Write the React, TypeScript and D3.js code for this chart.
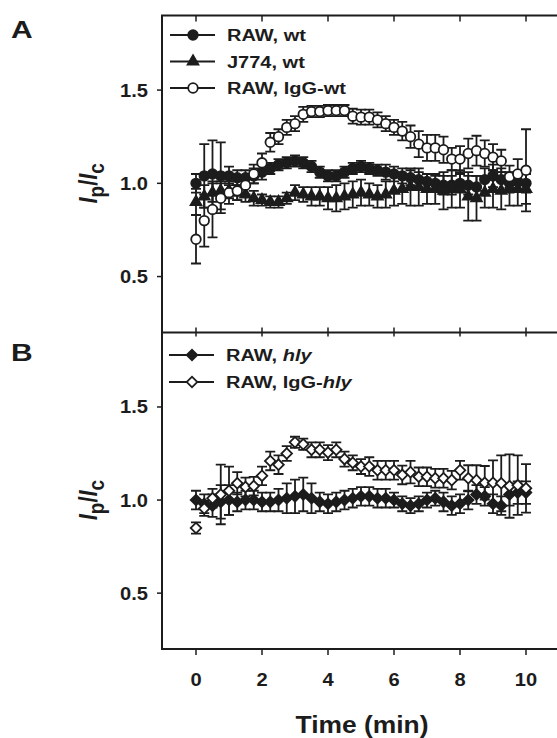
import React, { useEffect, useRef } from 'react';
import * as d3 from 'd3';

// time points (min)
const times = [0, 0.25, 0.5, 0.75, 1, 1.25, 1.5, 1.75, 2, 2.25, 2.5, 2.75, 3, 3.25, 3.5, 3.75, 4, 4.25, 4.5, 4.75,
  5, 5.25, 5.5, 5.75, 6, 6.25, 6.5, 6.75, 7, 7.25, 7.5, 7.75, 8, 8.25, 8.5, 8.75, 9, 9.25, 9.5, 9.75, 10];

const xTicks = [0, 2, 4, 6, 8, 10];
const yTicks = [0.5, 1.0, 1.5];

// panel A
const rawWt = [1.00, 1.04, 1.05, 1.04, 1.04, 1.03, 1.03, 1.04, 1.06, 1.08, 1.10, 1.11, 1.12, 1.11, 1.09, 1.06, 1.04, 1.04, 1.06, 1.08,
  1.09, 1.08, 1.07, 1.06, 1.05, 1.04, 1.03, 1.02, 1.01, 1.00, 0.99, 0.99, 1.00, 0.99, 0.98, 1.02, 1.04, 1.02, 1.00, 1.01, 1.00];
const rawWtErr = [0.05, 0.17, 0.18, 0.18, 0.05, 0.04, 0.04, 0.04, 0.04, 0.03, 0.03, 0.03, 0.03, 0.03, 0.03, 0.03, 0.03, 0.03, 0.03, 0.03,
  0.03, 0.03, 0.03, 0.04, 0.04, 0.04, 0.04, 0.04, 0.04, 0.04, 0.05, 0.05, 0.05, 0.05, 0.06, 0.06, 0.06, 0.06, 0.05, 0.05, 0.05];

const j774Wt = [0.90, 0.93, 0.95, 0.96, 0.96, 0.95, 0.94, 0.92, 0.91, 0.90, 0.90, 0.92, 0.95, 0.94, 0.93, 0.93, 0.92, 0.92, 0.93, 0.94,
  0.95, 0.94, 0.93, 0.94, 0.96, 0.97, 0.98, 0.98, 0.97, 0.97, 0.96, 0.97, 0.97, 0.93, 0.92, 0.95, 0.97, 0.96, 0.97, 0.97, 0.97];
const j774WtErr = [0.07, 0.06, 0.05, 0.05, 0.04, 0.04, 0.04, 0.04, 0.03, 0.03, 0.03, 0.03, 0.04, 0.04, 0.05, 0.05, 0.06, 0.07, 0.07, 0.07,
  0.07, 0.06, 0.06, 0.07, 0.08, 0.08, 0.10, 0.10, 0.08, 0.08, 0.10, 0.10, 0.10, 0.13, 0.12, 0.08, 0.10, 0.10, 0.09, 0.09, 0.08];

const rawIgGWt = [0.70, 0.80, 0.86, 0.92, 0.95, 0.96, 0.99, 1.05, 1.11, 1.22, 1.25, 1.30, 1.32, 1.37, 1.385, 1.385, 1.39, 1.39, 1.39, 1.36,
  1.355, 1.355, 1.34, 1.32, 1.30, 1.28, 1.25, 1.21, 1.19, 1.19, 1.18, 1.13, 1.13, 1.16, 1.175, 1.16, 1.14, 1.12, 1.035, 1.05, 1.07];
const rawIgGWtErr = [0.13, 0.14, 0.15, 0.08, 0.06, 0.05, 0.05, 0.05, 0.05, 0.05, 0.04, 0.04, 0.04, 0.04, 0.03, 0.03, 0.03, 0.03, 0.03, 0.04,
  0.04, 0.04, 0.04, 0.04, 0.04, 0.05, 0.06, 0.07, 0.07, 0.07, 0.07, 0.06, 0.07, 0.08, 0.08, 0.07, 0.07, 0.06, 0.06, 0.08, 0.22];

// panel B
const rawHly = [1.00, 0.98, 0.97, 0.99, 1.00, 0.99, 1.00, 1.00, 0.99, 0.99, 1.00, 1.01, 1.02, 1.03, 1.01, 0.99, 0.98, 0.99, 1.00, 1.01,
  1.02, 1.02, 1.01, 1.01, 1.00, 0.98, 0.97, 0.98, 1.00, 1.01, 0.99, 0.97, 0.98, 1.00, 1.03, 1.02, 0.98, 0.97, 1.03, 1.04, 1.04];
const rawHlyErr = [0.05, 0.05, 0.06, 0.09, 0.08, 0.05, 0.05, 0.05, 0.05, 0.05, 0.06, 0.08, 0.09, 0.09, 0.08, 0.05, 0.05, 0.05, 0.05, 0.05,
  0.05, 0.05, 0.05, 0.05, 0.04, 0.04, 0.04, 0.04, 0.04, 0.04, 0.05, 0.05, 0.05, 0.05, 0.05, 0.05, 0.05, 0.05, 0.06, 0.06, 0.06];

const rawIgGHly = [0.85, 0.955, 1.01, 1.03, 1.05, 1.09, 1.07, 1.075, 1.13, 1.21, 1.19, 1.25, 1.31, 1.30, 1.27, 1.27, 1.255, 1.27, 1.22, 1.20,
  1.18, 1.18, 1.16, 1.16, 1.16, 1.135, 1.15, 1.125, 1.125, 1.117, 1.117, 1.107, 1.16, 1.117, 1.107, 1.093, 1.093, 1.09, 1.075, 1.08, 1.063];
const rawIgGHlyErr = [0.03, 0.04, 0.05, 0.16, 0.13, 0.06, 0.05, 0.05, 0.05, 0.05, 0.05, 0.04, 0.03, 0.03, 0.04, 0.04, 0.04, 0.04, 0.04, 0.04,
  0.04, 0.05, 0.05, 0.05, 0.05, 0.05, 0.06, 0.05, 0.05, 0.05, 0.05, 0.05, 0.05, 0.07, 0.08, 0.09, 0.12, 0.15, 0.17, 0.16, 0.13];

const FONT = '"Liberation Sans", Arial, sans-serif';
const INK = '#1c1c1c';
const SW = 1.8;

const App = () => {
  const svgRef = useRef(null);

  useEffect(() => {
    const svg = d3.select(svgRef.current);
    svg.selectAll('*').remove();

    const width = 557;
    const height = 738;
    const left = 162;
    const topA = 15.5;
    const mid = 332.5;
    const bottom = 649;

    const x = d3.scaleLinear().domain([-1, 11]).range([163, 559]);
    const yA = d3.scaleLinear().domain([0.2, 1.9]).range([mid, topA]);
    const yB = d3.scaleLinear().domain([0.2, 1.9]).range([bottom, mid]);

    svg.attr('width', width).attr('height', height);

    const sym = (type, size) => d3.symbol().type(type).size(size)();

    const markers = {
      circle: { path: sym(d3.symbolCircle, 72), rot: 0 },
      triangle: { path: sym(d3.symbolTriangle, 50), rot: 0 },
      diamond: { path: sym(d3.symbolSquare, 56), rot: 45 },
    };

    // bold text, slightly stretched sideways like the source figure
    const label = (g, tx, ty, size, sx, anchor = 'start') =>
      g.append('text')
        .attr('transform', `translate(${tx},${ty}) scale(${sx},1)`)
        .attr('text-anchor', anchor)
        .style('font-family', FONT)
        .style('font-weight', 'bold')
        .style('font-size', `${size}px`)
        .attr('fill', INK);

    const drawSeries = (g, y, vals, errs, marker, filled) => {
      const s = g.append('g');
      // error bars
      s.selectAll('.err')
        .data(vals)
        .enter()
        .append('path')
        .attr('d', (v, i) => {
          const cx = x(times[i]);
          const y1 = y(v + errs[i]);
          const y0 = y(v - errs[i]);
          return `M${cx},${y0}V${y1}M${cx - 5},${y1}H${cx + 5}M${cx - 5},${y0}H${cx + 5}`;
        })
        .attr('stroke', INK)
        .attr('stroke-width', SW)
        .attr('fill', 'none');
      s.selectAll('.pt')
        .data(vals)
        .enter()
        .append('path')
        .attr('d', markers[marker].path)
        .attr('transform', (v, i) => `translate(${x(times[i])},${y(v)}) rotate(${markers[marker].rot})`)
        .attr('fill', filled ? INK : '#fff')
        .attr('stroke', INK)
        .attr('stroke-width', SW);
    };

    const legend = (g, lx, ly, marker, filled, parts) => {
      g.append('line')
        .attr('x1', lx - 23).attr('x2', lx + 22)
        .attr('y1', ly).attr('y2', ly)
        .attr('stroke', INK).attr('stroke-width', SW);
      g.append('path')
        .attr('d', markers[marker].path)
        .attr('transform', `translate(${lx},${ly}) rotate(${markers[marker].rot})`)
        .attr('fill', filled ? INK : '#fff')
        .attr('stroke', INK)
        .attr('stroke-width', SW);
      const t = label(g, lx + 34, ly + 6, 16, 1.25);
      parts.forEach(([txt, it]) => {
        t.append('tspan').text(txt).style('font-style', it ? 'italic' : 'normal');
      });
    };

    const yAxis = (g, y, cy) => {
      yTicks.forEach((v) => {
        g.append('line')
          .attr('x1', left - 5).attr('x2', left)
          .attr('y1', y(v)).attr('y2', y(v))
          .attr('stroke', INK).attr('stroke-width', 1.5);
        label(g, left - 14, y(v) + 6.5, 17.5, 1.15, 'end').text(d3.format('.1f')(v));
      });
      const lab = g.append('text')
        .attr('transform', `translate(97,${cy}) rotate(-90) scale(1,1.2)`)
        .attr('text-anchor', 'middle')
        .style('font-family', FONT)
        .style('font-weight', 'bold')
        .style('font-size', '22px')
        .attr('fill', INK);
      lab.append('tspan').text('I').style('font-style', 'italic');
      lab.append('tspan').text('p').attr('dy', 6).style('font-size', '19px');
      lab.append('tspan').text('/').attr('dy', -6);
      lab.append('tspan').text('I').style('font-style', 'italic');
      lab.append('tspan').text('c').attr('dy', 6).style('font-size', '19px');
    };

    const g = svg.append('g');

    // data
    drawSeries(g, yA, rawWt, rawWtErr, 'circle', true);
    drawSeries(g, yA, j774Wt, j774WtErr, 'triangle', true);
    drawSeries(g, yA, rawIgGWt, rawIgGWtErr, 'circle', false);
    drawSeries(g, yB, rawHly, rawHlyErr, 'diamond', true);
    drawSeries(g, yB, rawIgGHly, rawIgGHlyErr, 'diamond', false);

    // frame
    g.append('path')
      .attr('d', `M${width},${topA}H${left}V${bottom}H${width}M${left},${mid}H${width}`)
      .attr('fill', 'none')
      .attr('stroke', INK)
      .attr('stroke-width', 2);

    xTicks.forEach((t) => {
      const cx = x(t);
      g.append('line').attr('x1', cx).attr('x2', cx).attr('y1', topA).attr('y2', topA + 6)
        .attr('stroke', INK).attr('stroke-width', 1.5);
      g.append('line').attr('x1', cx).attr('x2', cx).attr('y1', mid - 5).attr('y2', mid + 4)
        .attr('stroke', INK).attr('stroke-width', 1.5);
      g.append('line').attr('x1', cx).attr('x2', cx).attr('y1', bottom).attr('y2', bottom + 6)
        .attr('stroke', INK).attr('stroke-width', 1.5);
      label(g, cx, bottom + 37, 17.5, 1.15, 'middle').text(t);
    });

    yAxis(g, yA, yA(1.0));
    yAxis(g, yB, yB(1.0));

    // legends
    legend(g, 193, 35, 'circle', true, [['RAW, wt', false]]);
    legend(g, 193, 61.5, 'triangle', true, [['J774, wt', false]]);
    legend(g, 193, 88, 'circle', false, [['RAW, IgG-wt', false]]);
    legend(g, 192, 355, 'diamond', true, [['RAW, ', false], ['hly', true]]);
    legend(g, 192, 382, 'diamond', false, [['RAW, IgG-', false], ['hly', true]]);

    // panel letters
    label(g, 11, 38, 24, 1.25).text('A');
    label(g, 11, 361, 24, 1.25).text('B');

    label(g, 362, 733, 24, 1.1, 'middle').text('Time (min)');
  }, []);

  return (
    <div style={{ position: 'absolute', left: 0, top: 0 }}>
      <svg ref={svgRef} style={{ display: 'block' }}></svg>
    </div>
  );
};

export default App;
